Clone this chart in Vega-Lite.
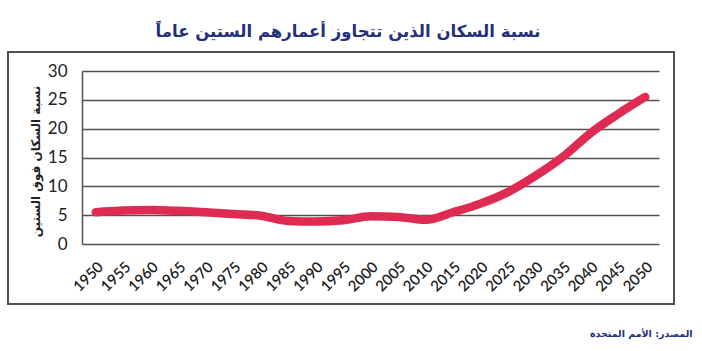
{
  "$schema": "https://vega.github.io/schema/vega-lite/v6.json",
  "width": 666,
  "height": 252,
  "autosize": {"type": "none"},
  "padding": {"left": 8, "top": 52, "right": 28, "bottom": 47},
  "background": "white",
  "title": {
    "text": "نسبة السكان الذين تتجاوز أعمارهم الستين عاماً",
    "font": "DejaVu Sans",
    "fontSize": 16.5,
    "fontWeight": "bold",
    "color": "#24307a",
    "anchor": "middle",
    "frame": "group",
    "dx": 7,
    "offset": 10
  },
  "data": {
    "values": [
      {"year": "1950", "value": 5.5},
      {"year": "1955", "value": 5.8},
      {"year": "1960", "value": 5.9},
      {"year": "1965", "value": 5.75},
      {"year": "1970", "value": 5.5},
      {"year": "1975", "value": 5.2},
      {"year": "1980", "value": 4.9},
      {"year": "1985", "value": 4.0},
      {"year": "1990", "value": 3.9},
      {"year": "1995", "value": 4.1},
      {"year": "2000", "value": 4.8},
      {"year": "2005", "value": 4.7},
      {"year": "2010", "value": 4.2},
      {"year": "2015", "value": 5.5},
      {"year": "2020", "value": 7.0},
      {"year": "2025", "value": 9.0},
      {"year": "2030", "value": 11.8},
      {"year": "2035", "value": 15.1},
      {"year": "2040", "value": 19.2},
      {"year": "2045", "value": 22.5},
      {"year": "2050", "value": 25.5}
    ]
  },
  "layer": [
    {
      "mark": {
        "type": "line",
        "color": "#df2a52",
        "strokeWidth": 8.5,
        "strokeCap": "round",
        "strokeJoin": "round",
        "interpolate": "monotone"
      },
      "encoding": {
        "x": {
          "field": "year",
          "type": "ordinal",
          "bandPosition": 0.5,
          "scale": {"type": "band", "range": [74, 651], "paddingInner": 0, "paddingOuter": 0},
          "axis": {
            "offset": -60,
            "domain": false,
            "ticks": false,
            "grid": false,
            "labelAngle": -45,
            "labelAlign": "right",
            "labelBaseline": "top",
            "labelPadding": 15,
            "labelFont": "Lato",
            "labelFontSize": 15,
            "labelFontWeight": 600,
            "labelColor": "#222222",
            "title": "المصدر: الأمم المتحدة",
            "titleFont": "DejaVu Sans",
            "titleFontSize": 9.5,
            "titleFontWeight": "bold",
            "titleColor": "#24307a",
            "titleX": 684,
            "titleY": 89,
            "titleAlign": "right",
            "titleBaseline": "middle"
          }
        },
        "y": {
          "field": "value",
          "type": "quantitative",
          "scale": {"domain": [0, 30], "range": [192, 19], "nice": false},
          "axis": {
            "offset": -74,
            "values": [0, 5, 10, 15, 20, 25, 30],
            "domain": true,
            "domainColor": "#555050",
            "domainWidth": 1.5,
            "ticks": false,
            "grid": true,
            "gridColor": "#555050",
            "gridWidth": 1.4,
            "gridOpacity": 1,
            "labelPadding": 15,
            "labelFont": "Lato",
            "labelFontSize": 17,
            "labelColor": "#222222",
            "title": "نسبة السكان فوق الستين",
            "titleFont": "DejaVu Sans",
            "titleFontSize": 12,
            "titleFontWeight": "bold",
            "titleColor": "#222222",
            "titleAngle": -90,
            "titleX": -47,
            "titleY": 109,
            "titleAlign": "center",
            "titleBaseline": "middle"
          }
        }
      }
    },
    {
      "mark": {"type": "rule", "color": "#555050", "strokeWidth": 1.5, "strokeCap": "square"},
      "encoding": {"y": {"datum": 33.295, "type": "quantitative"}}
    },
    {
      "mark": {"type": "rule", "color": "#555050", "strokeWidth": 1.5, "strokeCap": "square"},
      "encoding": {"y": {"datum": -10.405, "type": "quantitative"}}
    },
    {
      "mark": {"type": "rule", "color": "#555050", "strokeWidth": 1.5, "strokeCap": "square"},
      "encoding": {"x": {"datum": "1950", "type": "ordinal", "bandPosition": -2.693}}
    },
    {
      "mark": {"type": "rule", "color": "#555050", "strokeWidth": 1.5, "strokeCap": "square"},
      "encoding": {"x": {"datum": "2050", "type": "ordinal", "bandPosition": 1.546}}
    }
  ],
  "config": {
    "view": {"stroke": null}
  }
}
